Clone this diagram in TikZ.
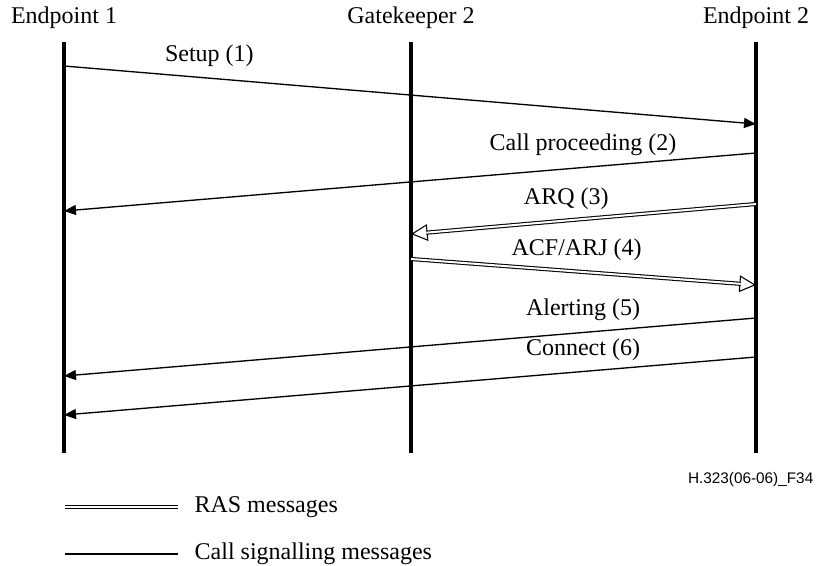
\documentclass[tikz,border=0pt]{standalone}
\usepackage{fontspec}
\setmainfont{Liberation Serif}
\newfontfamily\figsans{Liberation Sans}
\usetikzlibrary{arrows.meta}

\begin{document}
\begin{tikzpicture}[x=0.75pt, y=-0.75pt, every node/.style={font=\fontsize{18}{21}\selectfont}, >={Triangle[length=9pt, width=7.5pt]},
	lifeline/.style={line width=2.3pt},
	call/.style={line width=1pt, ->},
	ras/.style={line width=0.8pt, double, double distance=1.5pt},
	rastip/.style={line width=0.8pt, -{Triangle[length=12.5pt, width=12.5pt, fill=white]}},
	msg/.style={above=7pt, inner sep=1pt}]
	\useasboundingbox (0,0) rectangle (823,566);
	\foreach \l/\x/\t in {ep1/64/Endpoint 1, gk2/411/Gatekeeper 2, ep2/756/Endpoint 2} {
		\node (\l) at (\x,18) {\t};
		\draw[lifeline] (\x,42) coordinate (\l top) -- (\x,453) coordinate (\l bot);
	}
	\foreach \a/\ya/\b/\yb/\p/\txt in {ep1/66/ep2/124/.21/Setup (1), ep2/153/ep1/211/.25/Call proceeding (2), ep2/318/ep1/376/.25/Alerting (5), ep2/357/ep1/415/.25/Connect (6)} {
		\draw[call] (\a top |- 0,\ya) -- (\b top |- 0,\yb) node[msg, pos=\p] {\txt};
	}
	\foreach \a/\ya/\b/\yb/\p/\txt in {ep2/204/gk2/234/.55/ARQ (3), gk2/259/ep2/285/.48/{ACF/ARJ (4)}} {
		\draw[rastip] (\a top |- 0,\ya) -- (\b top |- 0,\yb);
		\draw[ras, shorten >=11.5pt] (\a top |- 0,\ya) -- (\b top |- 0,\yb) node[msg, pos=\p] {\txt};
	}
	\node[anchor=east, font=\figsans\fontsize{11.5}{13}\selectfont] (figid) at (818,480) {H.323(06-06)\_F34};
	% legend
	\coordinate (rasA) at (65,507);
	\coordinate (rasB) at (178,507);
	\coordinate (callA) at (65,554);
	\coordinate (callB) at (178,554);
	\draw[ras] (rasA) -- (rasB) node[right=12pt, inner sep=0pt] (rasl) {RAS messages};
	\draw[line width=1pt] (callA) -- (callB) node[right=12pt, inner sep=0pt] (calll) {Call signalling messages};
\end{tikzpicture}
\end{document}
